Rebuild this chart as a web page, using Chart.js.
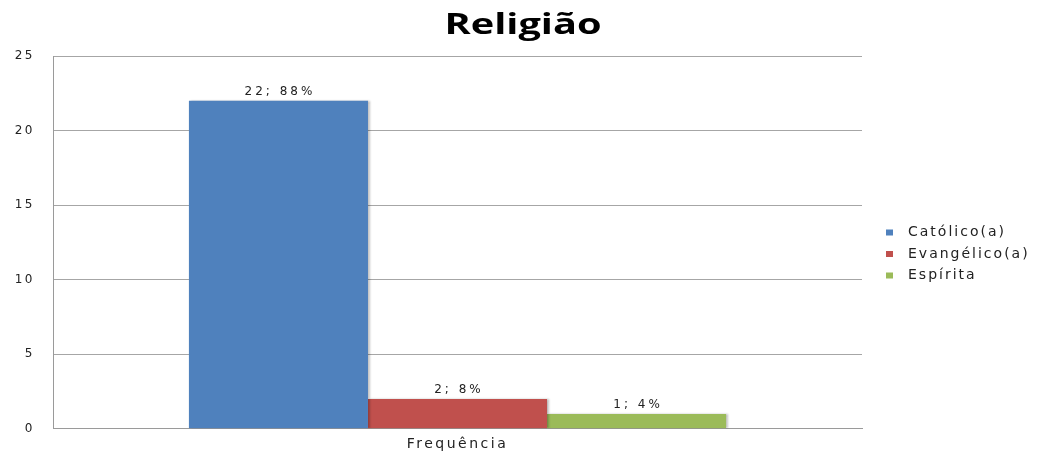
<!DOCTYPE html>
<html>
<head>
<meta charset="utf-8">
<script src="https://cdn.jsdelivr.net/npm/chart.js@4/dist/chart.umd.min.js"></script>
<style>
    html, body { margin: 0; padding: 0; background: #fff; overflow: hidden; }
    canvas { display: block; }
</style>
</head>
<body>
<canvas id="religiaoChart" width="1037" height="454"></canvas>
<script>
// Religião - frequência por grupo
const categories = ['Frequência'];
const seriesNames = ['Católico(a)', 'Evangélico(a)', 'Espírita'];
const seriesValues = [22, 2, 1];
const seriesColors = ['#4F81BD', '#C0504D', '#9BBB59'];
const yTicks = [0, 5, 10, 15, 20, 25];
const chartTitle = 'Religião';

const total = seriesValues.reduce((a, b) => a + b, 0);
const spacing = '2.5px';
const family = '"DejaVu Sans"';

// wide, airy lettering for the axis labels
const letterSpacing = {
    id: 'letterSpacing',
    beforeUpdate(chart) { chart.ctx.letterSpacing = spacing; },
    beforeDraw(chart) { chart.ctx.letterSpacing = spacing; }
};

// Title drawn by hand so it can be stretched sideways
const wideTitle = {
    id: 'wideTitle',
    afterDraw(chart) {
        const ctx = chart.ctx;
        ctx.save();
        ctx.letterSpacing = '0px';
        ctx.font = 'bold 29px "Open Sans"';
        ctx.fillStyle = '#000';
        ctx.textAlign = 'center';
        ctx.textBaseline = 'alphabetic';
        ctx.translate(523, 34);
        ctx.scale(1.37, 1);
        ctx.fillText(chartTitle, 0, 0);
        ctx.restore();
    }
};

// Legend at the right, one row per dataset
const sideLegend = {
    id: 'sideLegend',
    afterDraw(chart) {
        const ctx = chart.ctx;
        const area = chart.chartArea;
        const x0 = area.right + 24;
        const rowH = 21.5;
        const dsList = chart.data.datasets;
        const y0 = 254 - (dsList.length - 1) / 2 * rowH;
        ctx.save();
        ctx.letterSpacing = '2px';
        ctx.font = '14px ' + family;
        ctx.textAlign = 'left';
        ctx.textBaseline = 'middle';
        dsList.forEach((ds, i) => {
            const y = y0 + i * rowH;
            ctx.fillStyle = ds.backgroundColor;
            ctx.fillRect(x0, y - 3, 7, 6);
            ctx.fillStyle = '#222';
            ctx.fillText(ds.label, x0 + 22, y);
        });
        ctx.restore();
    }
};

// Shadow on the right side of each bar
const barShadow = {
    id: 'barShadow',
    beforeDatasetsDraw(chart) {
        const ctx = chart.ctx;
        ctx.save();
        ctx.shadowColor = 'rgba(0,0,0,0.25)';
        ctx.shadowOffsetX = 2;
        ctx.shadowOffsetY = 0;
        ctx.shadowBlur = 2;
    },
    afterDatasetsDraw(chart) {
        chart.ctx.restore();
    }
};

// "valor; porcentagem" above each bar
const valueLabels = {
    id: 'valueLabels',
    afterDatasetsDraw(chart) {
        const ctx = chart.ctx;
        ctx.save();
        ctx.letterSpacing = '3px';
        ctx.font = '12px ' + family;
        ctx.fillStyle = '#222';
        ctx.textAlign = 'center';
        ctx.textBaseline = 'bottom';
        chart.data.datasets.forEach((ds, i) => {
            const meta = chart.getDatasetMeta(i);
            meta.data.forEach((bar, j) => {
                const v = ds.data[j];
                const pct = Math.round(v / total * 100);
                ctx.fillText(v + '; ' + pct + '%', bar.x + 1.5, bar.y - 3);
            });
        });
        ctx.restore();
    }
};

const datasets = seriesNames.map((name, i) => ({
    label: name,
    data: [seriesValues[i]],
    backgroundColor: seriesColors[i],
    borderWidth: 0
}));

new Chart(document.getElementById('religiaoChart'), {
    type: 'bar',
    data: { labels: categories, datasets: datasets },
    options: {
        responsive: false,
        animation: false,
        devicePixelRatio: 1,
        layout: { padding: { left: 0, right: 175, top: 56, bottom: 0 } },
        datasets: {
            bar: { categoryPercentage: 0.664, barPercentage: 1.0 }
        },
        plugins: {
            title: { display: false },
            legend: { display: false },
            tooltip: { enabled: false }
        },
        scales: {
            x: {
                grid: { display: false, drawTicks: false },
                border: { color: '#9a9a9a', width: 1 },
                afterFit(axis) { axis.height = 23; },
                ticks: { color: '#222', font: { family: family, size: 14 }, padding: 7 }
            },
            y: {
                min: 0,
                max: 25,
                afterBuildTicks(axis) {
                    axis.ticks = yTicks.map(v => ({ value: v }));
                },
                afterFit(axis) { axis.width = 53; },
                grid: { color: '#a6a6a6', drawTicks: false },
                border: { color: '#9a9a9a', width: 1 },
                ticks: { color: '#222', font: { family: family, size: 12 }, padding: 18 }
            }
        }
    },
    plugins: [letterSpacing, barShadow, valueLabels, sideLegend, wideTitle]
});
</script>
</body>
</html>
